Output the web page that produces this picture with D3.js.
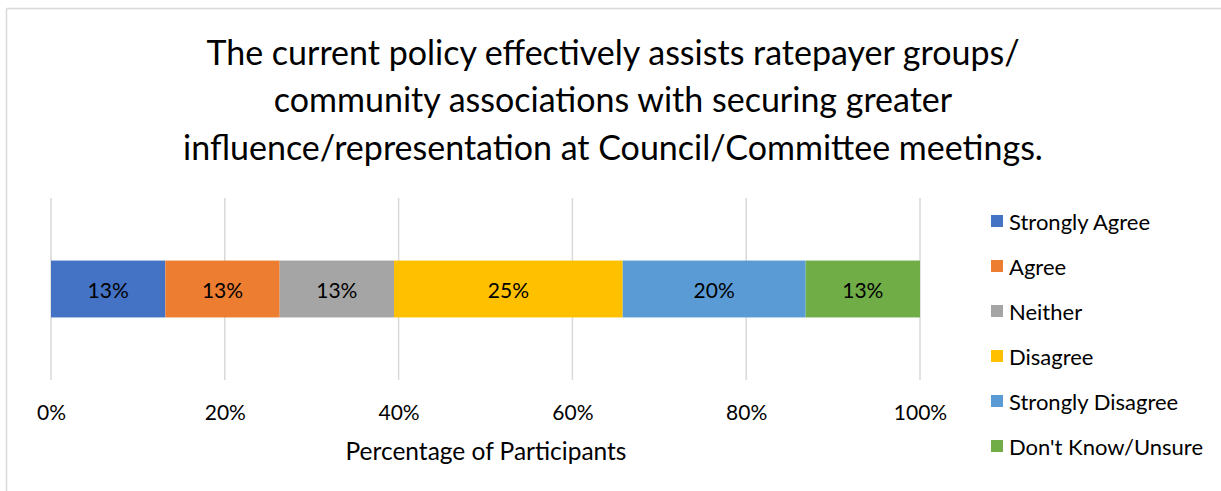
<!DOCTYPE html>
<html>
<head>
<meta charset="utf-8">
<script src="https://cdn.jsdelivr.net/npm/d3@7"></script>
<style>
  html, body { margin: 0; padding: 0; background: #fff; }
  svg { display: block; font-family: Lato, "Open Sans", sans-serif; }
</style>
</head>
<body>
<svg id="chart" width="1221" height="491"></svg>
<script>
// Survey responses (percent of participants)
const categories = ["Strongly Agree", "Agree", "Neither", "Disagree", "Strongly Disagree", "Don't Know/Unsure"];
const values = [12.5, 12.5, 12.5, 25, 20, 12.5];
const colors = ["#4472C4", "#ED7D31", "#A5A5A5", "#FFC000", "#5B9BD5", "#70AD47"];
const tickValues = [0, 0.2, 0.4, 0.6, 0.8, 1];
const titleLines = [
  "The current policy effectively assists ratepayer groups/",
  "community associations with securing greater",
  "influence/representation at Council/Committee meetings."
];
const axisTitle = "Percentage of Participants";

const svg = d3.select("#chart");

// Chart frame
svg.append("line").attr("x1", 6.5).attr("x2", 1221).attr("y1", 8.5).attr("y2", 8.5)
  .attr("stroke", "#d9d9d9").attr("stroke-width", 1.5);
svg.append("line").attr("x1", 6.5).attr("x2", 6.5).attr("y1", 8.5).attr("y2", 491)
  .attr("stroke", "#d9d9d9").attr("stroke-width", 1.5);

// Title
svg.append("g").selectAll("text").data(titleLines).join("text")
  .attr("x", 613).attr("y", (d, i) => 51 + i * 47.5)
  .attr("text-anchor", "middle").attr("dominant-baseline", "central")
  .attr("font-size", 34).attr("fill", "#000")
  .text(d => d);

// One row, stacked and normalised to 100%
const row = {};
categories.forEach((c, i) => { row[c] = values[i]; });
const series = d3.stack().keys(categories).offset(d3.stackOffsetExpand)([row]);

const x = d3.scaleLinear().domain([0, 1]).range([51, 920]);
const y = d3.scaleBand().domain(["row"]).range([198, 380]).paddingInner(0).paddingOuter(1.1);

// Gridlines
svg.append("g").selectAll("line").data(tickValues).join("line")
  .attr("x1", d => x(d)).attr("x2", d => x(d))
  .attr("y1", 198).attr("y2", 380)
  .attr("stroke", "#d9d9d9").attr("stroke-width", 1.5);

// Bars
const bars = svg.append("g").selectAll("g").data(series).join("g");
bars.append("rect")
  .attr("x", d => x(d[0][0]))
  .attr("width", d => x(d[0][1]) - x(d[0][0]))
  .attr("y", y("row")).attr("height", y.bandwidth())
  .attr("fill", (d, i) => colors[i]);
bars.append("text")
  .attr("x", d => (x(d[0][0]) + x(d[0][1])) / 2)
  .attr("y", y("row") + y.bandwidth() / 2)
  .attr("text-anchor", "middle").attr("dominant-baseline", "central")
  .attr("font-size", 21).attr("fill", "#000")
  .text((d, i) => Math.round(values[i]) + "%");

// Axis
const axis = d3.axisBottom(x).tickValues(tickValues).tickFormat(d3.format(".0%")).tickSize(0).tickPadding(0);
const ax = svg.append("g").attr("transform", "translate(0,411)").call(axis);
ax.select(".domain").remove();
ax.selectAll("text").attr("font-size", 21).attr("fill", "#000")
  .attr("font-family", "Lato, 'Open Sans', sans-serif")
  .attr("dy", null).attr("dominant-baseline", "central");

svg.append("text").attr("x", 486).attr("y", 450)
  .attr("text-anchor", "middle").attr("dominant-baseline", "central")
  .attr("font-size", 24.5).attr("fill", "#000").text(axisTitle);

// Legend
const legend = svg.append("g").selectAll("g").data(categories).join("g")
  .attr("transform", (d, i) => `translate(991,${221 + i * 45})`);
legend.append("rect").attr("x", 0).attr("y", -6).attr("width", 12).attr("height", 12)
  .attr("fill", (d, i) => colors[i]);
legend.append("text").attr("x", 18).attr("y", 0)
  .attr("dominant-baseline", "central").attr("font-size", 22).attr("fill", "#000")
  .text(d => d);
</script>
</body>
</html>
